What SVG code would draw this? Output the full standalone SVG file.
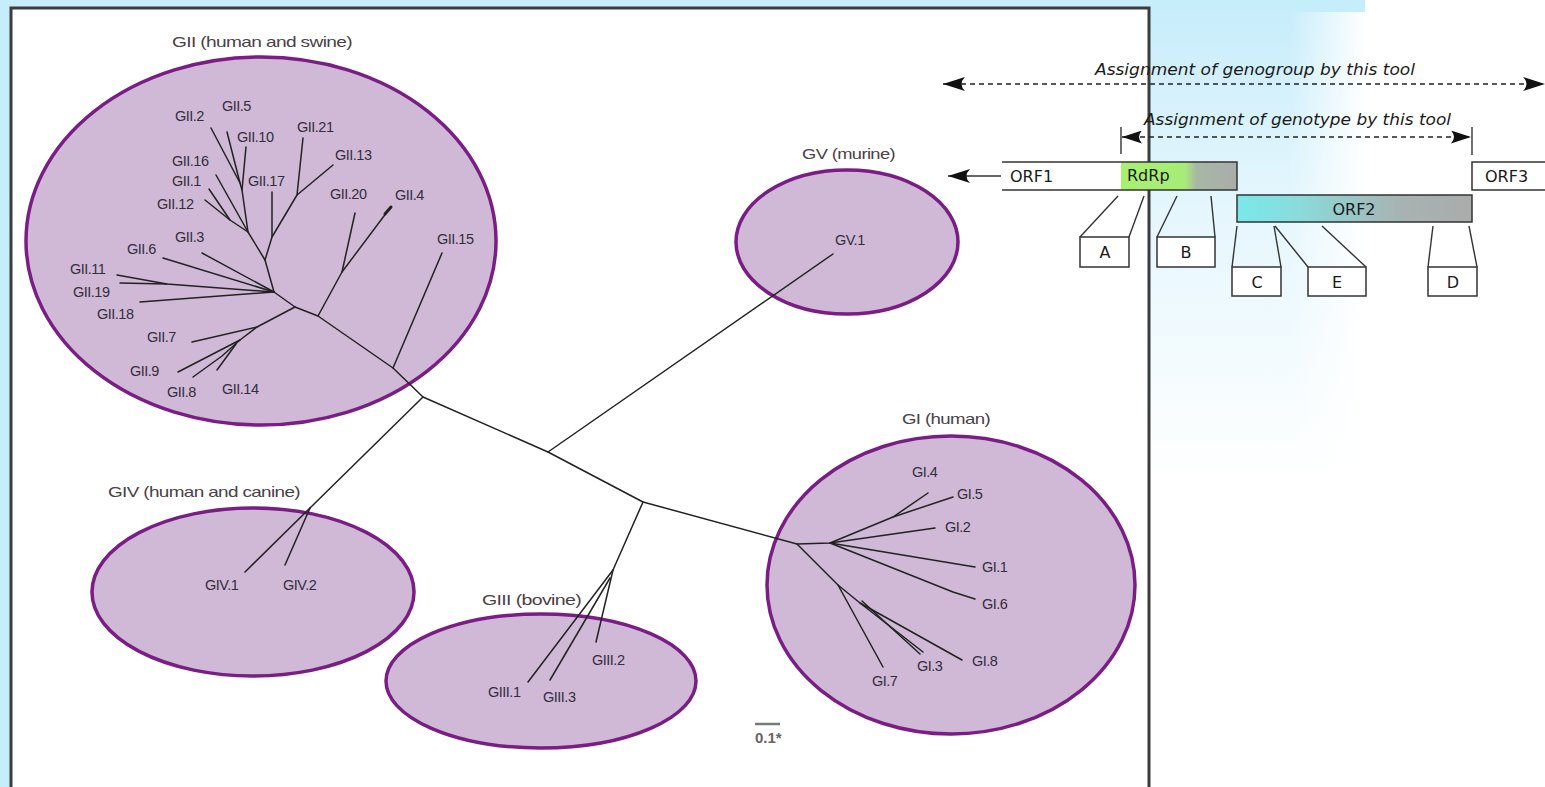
<svg xmlns="http://www.w3.org/2000/svg" width="1545" height="787" viewBox="0 0 1545 787">
<defs>
<style>
.ell{fill:#cfb9d6;stroke:#7a1d84;stroke-width:3.5}
.br{fill:none;stroke:#222222;stroke-width:1.5;stroke-linecap:round;stroke-linejoin:round}
.lab{font-family:"Liberation Sans",Arial,sans-serif;font-size:14.5px;fill:#352d3c;letter-spacing:-0.5px}
.ttl{font-family:"Liberation Sans",Arial,sans-serif;font-size:15px;fill:#4a4046;letter-spacing:-0.5px}
.gtxt{font-family:"DejaVu Sans",sans-serif;font-size:16px;fill:#1a1a1a}
.itxt{font-family:"DejaVu Sans",sans-serif;font-size:16px;font-style:italic;fill:#1a1a1a}
.box{fill:#ffffff;stroke:#333333;stroke-width:1.5}
.ln{fill:none;stroke:#333333;stroke-width:1.4}
.dash{fill:none;stroke:#222222;stroke-width:1.4;stroke-dasharray:5 4}
</style>
<linearGradient id="vfade" x1="0" y1="0" x2="0" y2="1">
<stop offset="0" stop-color="#c8edfb"/>
<stop offset="0.4" stop-color="#e4f6fd"/>
<stop offset="1" stop-color="#ffffff"/>
</linearGradient>
<linearGradient id="hfade" x1="0" y1="0" x2="1" y2="0">
<stop offset="0" stop-color="#ffffff" stop-opacity="0"/>
<stop offset="1" stop-color="#ffffff" stop-opacity="1"/>
</linearGradient>
<linearGradient id="rdrp" x1="0" y1="0" x2="1" y2="0">
<stop offset="0" stop-color="#a8f070"/>
<stop offset="0.55" stop-color="#a8ec78"/>
<stop offset="0.65" stop-color="#a8b8a4"/>
<stop offset="1" stop-color="#a9acaa"/>
</linearGradient>
<linearGradient id="orf2" x1="0" y1="0" x2="1" y2="0">
<stop offset="0" stop-color="#7ae8e8"/>
<stop offset="0.25" stop-color="#8adcdc"/>
<stop offset="0.7" stop-color="#a7b3b2"/>
<stop offset="1" stop-color="#a9acab"/>
</linearGradient>
<marker id="arr" viewBox="0 0 22 14" refX="22" refY="7" markerWidth="22" markerHeight="14" markerUnits="userSpaceOnUse" orient="auto-start-reverse">
<path d="M22,7 L0,0 Q7,7 0,14 Z" fill="#111111"/>
</marker>
<marker id="arrs" viewBox="0 0 20 13" refX="20" refY="6.5" markerWidth="20" markerHeight="13" markerUnits="userSpaceOnUse" orient="auto-start-reverse">
<path d="M20,6.5 L0,0 Q6,6.5 0,13 Z" fill="#111111"/>
</marker>
</defs>

<g id="background">
<rect x="0" y="0" width="1545" height="787" fill="#ffffff"/>
<rect x="0" y="0" width="11" height="787" fill="#c6edfa"/>
<rect x="0" y="0" width="1150" height="8" fill="#c6edfa"/>
<rect x="1150" y="0" width="215" height="12" fill="#c6edfa"/>
<rect x="1150" y="12" width="215" height="470" fill="url(#vfade)"/>
<rect x="1290" y="12" width="76" height="470" fill="url(#hfade)"/>
</g>

<g id="panel">
<rect x="11" y="8" width="1138" height="800" fill="#ffffff" stroke="#3c3c3c" stroke-width="3"/>
</g>

<g id="cluster-GII">
<ellipse class="ell" cx="261" cy="241" rx="235" ry="184"/>
<text class="ttl" x="172" y="47" textLength="180" lengthAdjust="spacingAndGlyphs">GII  (human and swine)</text>
</g>
<g id="cluster-GV">
<ellipse class="ell" cx="847" cy="242" rx="111" ry="72"/>
<text class="ttl" x="802" y="159" textLength="93" lengthAdjust="spacingAndGlyphs">GV (murine)</text>
</g>
<g id="cluster-GIV">
<ellipse class="ell" cx="253" cy="592" rx="161" ry="84"/>
<text class="ttl" x="108" y="497" textLength="192" lengthAdjust="spacingAndGlyphs">GIV  (human and canine)</text>
</g>
<g id="cluster-GIII">
<ellipse class="ell" cx="541" cy="681" rx="155" ry="67"/>
<text class="ttl" x="482" y="605" textLength="99" lengthAdjust="spacingAndGlyphs">GIII  (bovine)</text>
</g>
<g id="cluster-GI">
<ellipse class="ell" cx="951" cy="585" rx="184" ry="149"/>
<text class="ttl" x="902" y="424" textLength="88" lengthAdjust="spacingAndGlyphs">GI (human)</text>
</g>

<g id="connectors">
<polyline class="br" points="295,307 318,316 393,368 423,397 548,452 643,502 797,544"/>
<line class="br" x1="423" y1="397" x2="310" y2="508"/>
<line class="br" x1="548" y1="452" x2="833" y2="254"/>
<line class="br" x1="643" y1="502" x2="613" y2="570"/>
<line class="br" x1="393" y1="368" x2="442" y2="253"/>
<polyline class="br" points="318,316 342,272 355,213"/>
<line class="br" x1="342" y1="272" x2="390" y2="208"/>
<line class="br" x1="385" y1="214" x2="391" y2="207" style="stroke-width:3"/>
<polyline class="br" points="295,307 257,327 192,342"/>
<polyline class="br" points="257,327 240,340 178,372"/>
<polyline class="br" points="240,340 222,356 193,377"/>
<line class="br" x1="236" y1="344" x2="217" y2="370"/>
<polyline class="br" points="295,307 274,292 265,260"/>
<line class="br" x1="274" y1="292" x2="163" y2="258"/>
<line class="br" x1="274" y1="292" x2="202" y2="253"/>
<polyline class="br" points="274,292 167,284 117,275"/>
<line class="br" x1="167" y1="284" x2="120" y2="283"/>
<line class="br" x1="274" y1="292" x2="140" y2="302"/>
<polyline class="br" points="265,260 272,237 297,195 303,138"/>
<line class="br" x1="272" y1="237" x2="272" y2="192"/>
<line class="br" x1="297" y1="195" x2="333" y2="165"/>
<polyline class="br" points="265,260 248,232 242,190 240,183 211,128"/>
<line class="br" x1="240" y1="183" x2="227" y2="132"/>
<line class="br" x1="242" y1="190" x2="246" y2="147"/>
<line class="br" x1="248" y1="232" x2="216" y2="175"/>
<polyline class="br" points="248,232 230,220 209,189"/>
<line class="br" x1="230" y1="220" x2="205" y2="200"/>
<line class="br" x1="310" y1="508" x2="245" y2="572"/>
<line class="br" x1="310" y1="508" x2="285" y2="565"/>
<line class="br" x1="613" y1="570" x2="596" y2="642"/>
<line class="br" x1="613" y1="570" x2="528" y2="682"/>
<line class="br" x1="610" y1="578" x2="550" y2="680"/>
<polyline class="br" points="797,544 830,543 893,517 928,493"/>
<line class="br" x1="893" y1="517" x2="953" y2="497"/>
<line class="br" x1="830" y1="543" x2="935" y2="528"/>
<line class="br" x1="830" y1="543" x2="975" y2="567"/>
<polyline class="br" points="830,543 953,592 975,599"/>
<polyline class="br" points="797,544 838,585 883,667"/>
<polyline class="br" points="838,585 860,603 923,652"/>
<line class="br" x1="862" y1="601" x2="920" y2="654"/>
<line class="br" x1="860" y1="603" x2="962" y2="660"/>
</g>

<g id="leaf-labels">
<text class="lab" x="175" y="121">GII.2</text>
<text class="lab" x="222" y="111">GII.5</text>
<text class="lab" x="237" y="142">GII.10</text>
<text class="lab" x="297" y="132">GII.21</text>
<text class="lab" x="335" y="160">GII.13</text>
<text class="lab" x="172" y="166">GII.16</text>
<text class="lab" x="172" y="186">GII.1</text>
<text class="lab" x="248" y="186">GII.17</text>
<text class="lab" x="157" y="209">GII.12</text>
<text class="lab" x="330" y="199">GII.20</text>
<text class="lab" x="395" y="200">GII.4</text>
<text class="lab" x="175" y="242">GII.3</text>
<text class="lab" x="437" y="244">GII.15</text>
<text class="lab" x="127" y="254">GII.6</text>
<text class="lab" x="70" y="274">GII.11</text>
<text class="lab" x="73" y="297">GII.19</text>
<text class="lab" x="97" y="319">GII.18</text>
<text class="lab" x="147" y="342">GII.7</text>
<text class="lab" x="130" y="376">GII.9</text>
<text class="lab" x="167" y="397">GII.8</text>
<text class="lab" x="222" y="394">GII.14</text>
<text class="lab" x="835" y="245">GV.1</text>
<text class="lab" x="205" y="590">GIV.1</text>
<text class="lab" x="283" y="590">GIV.2</text>
<text class="lab" x="488" y="697">GIII.1</text>
<text class="lab" x="543" y="702">GIII.3</text>
<text class="lab" x="592" y="665">GIII.2</text>
<text class="lab" x="912" y="477">GI.4</text>
<text class="lab" x="957" y="499">GI.5</text>
<text class="lab" x="945" y="532">GI.2</text>
<text class="lab" x="982" y="572">GI.1</text>
<text class="lab" x="982" y="609">GI.6</text>
<text class="lab" x="917" y="671">GI.3</text>
<text class="lab" x="972" y="666">GI.8</text>
<text class="lab" x="872" y="686">GI.7</text>
</g>

<g id="scale-bar">
<line x1="755" y1="724" x2="780" y2="724" stroke="#777777" stroke-width="2.5"/>
<text x="755" y="743" style="font-family:'Liberation Sans',Arial,sans-serif;font-size:15px;font-weight:bold;fill:#6a6468">0.1*</text>
</g>

<g id="genome-arrows">
<line class="dash" x1="943" y1="84" x2="1545" y2="84" marker-start="url(#arr)" marker-end="url(#arr)"/>
<text class="itxt" x="1095" y="75" textLength="320" lengthAdjust="spacingAndGlyphs">Assignment of genogroup by this tool</text>
<line class="dash" x1="1122" y1="137" x2="1471" y2="137" marker-start="url(#arrs)" marker-end="url(#arrs)"/>
<line class="ln" x1="1121" y1="127" x2="1121" y2="154"/>
<line class="ln" x1="1472" y1="127" x2="1472" y2="155"/>
<text class="itxt" x="1144" y="125" textLength="307" lengthAdjust="spacingAndGlyphs">Assignment of genotype by this tool</text>
</g>

<g id="orf1">
<rect x="1121" y="162" width="116" height="28" fill="url(#rdrp)"/>
<path class="ln" d="M1002,162 H1237 V190 H1002" style="stroke-width:1.5"/>
<line class="ln" x1="1001" y1="176" x2="948" y2="176" marker-end="url(#arr)"/>
<text class="gtxt" x="1010" y="182">ORF1</text>
<text class="gtxt" x="1127" y="181">RdRp</text>
</g>

<g id="orf2">
<rect x="1237" y="195" width="235" height="27" fill="url(#orf2)" stroke="#333333" stroke-width="1.5"/>
<text class="gtxt" x="1354" y="215" text-anchor="middle">ORF2</text>
</g>

<g id="orf3">
<path class="ln" d="M1546,162 H1472 V190 H1546" style="stroke-width:1.5"/>
<text class="gtxt" x="1485" y="182">ORF3</text>
</g>

<g id="region-lines">
<line class="ln" x1="1080" y1="237" x2="1118" y2="196"/>
<line class="ln" x1="1129" y1="237" x2="1144" y2="196"/>
<line class="ln" x1="1157" y1="237" x2="1177" y2="196"/>
<line class="ln" x1="1215" y1="237" x2="1211" y2="196"/>
<line class="ln" x1="1232" y1="267" x2="1237" y2="226"/>
<line class="ln" x1="1281" y1="267" x2="1274" y2="226"/>
<line class="ln" x1="1308" y1="267" x2="1275" y2="226"/>
<line class="ln" x1="1366" y1="267" x2="1322" y2="226"/>
<line class="ln" x1="1428" y1="267" x2="1433" y2="226"/>
<line class="ln" x1="1477" y1="267" x2="1469" y2="226"/>
</g>

<g id="region-A"><rect class="box" x="1080" y="237" width="49" height="30"/><text class="gtxt" x="1105" y="258" text-anchor="middle">A</text></g>
<g id="region-B"><rect class="box" x="1157" y="237" width="58" height="30"/><text class="gtxt" x="1186" y="258" text-anchor="middle">B</text></g>
<g id="region-C"><rect class="box" x="1232" y="267" width="49" height="29"/><text class="gtxt" x="1257" y="288" text-anchor="middle">C</text></g>
<g id="region-E"><rect class="box" x="1308" y="267" width="58" height="29"/><text class="gtxt" x="1337" y="288" text-anchor="middle">E</text></g>
<g id="region-D"><rect class="box" x="1428" y="267" width="49" height="29"/><text class="gtxt" x="1453" y="288" text-anchor="middle">D</text></g>
</svg>
